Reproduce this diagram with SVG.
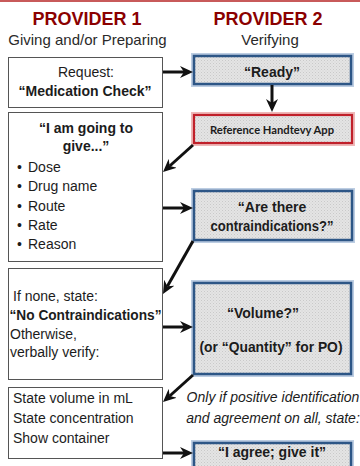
<svg xmlns="http://www.w3.org/2000/svg" width="360" height="466" viewBox="0 0 360 466">
<defs>
<pattern id="dots" width="3" height="3" patternUnits="userSpaceOnUse">
<rect width="3" height="3" fill="#e4e4e4"/>
<rect x="0" y="0" width="1" height="1" fill="#c9c9c9"/>
<rect x="1.5" y="1.5" width="1" height="1" fill="#d2d2d2"/>
</pattern>
<marker id="ah" markerUnits="userSpaceOnUse" markerWidth="14" markerHeight="12" refX="4" refY="6" orient="auto">
<path d="M0,0 L13,6 L0,12 L4,6 Z" fill="#111"/>
</marker>
<style>
.t{font-family:"Liberation Sans",Arial,sans-serif;fill:#1c1c1c;font-size:14px}
.b{font-weight:bold}
.c{text-anchor:middle}
.title{font-family:"Liberation Sans",Arial,sans-serif;font-weight:bold;font-size:18px;fill:#8b0000;text-anchor:middle}
.sub{font-family:"Liberation Sans",Arial,sans-serif;font-size:15px;fill:#2a2a2a;text-anchor:middle}
.lbox{fill:#fff;stroke:#555;stroke-width:1}
.glowb{fill:none;stroke:#9fb8d6;stroke-width:6;opacity:0.7}
.bbox{fill:url(#dots);stroke:#2d5686;stroke-width:2.5}
.glowr{fill:none;stroke:#e79a9a;stroke-width:6;opacity:0.7}
.rbox{fill:url(#dots);stroke:#c0202a;stroke-width:2.2}
.arr{stroke:#111;stroke-width:3;fill:none;marker-end:url(#ah)}
</style>
</defs>
<rect width="360" height="466" fill="#fff"/>
<line x1="0" y1="1" x2="360" y2="1" stroke="#c85a5a" stroke-width="2"/>

<g id="header1">
<text class="title" x="87" y="25">PROVIDER 1</text>
<text class="sub" x="87.5" y="45">Giving and/or Preparing</text>
</g>
<g id="header2">
<text class="title" x="268" y="25">PROVIDER 2</text>
<text class="sub" x="270" y="45">Verifying</text>
</g>

<g id="request">
<rect class="lbox" x="8.5" y="57.5" width="154" height="50"/>
<text class="t c" x="86" y="77">Request:</text>
<text class="t b c" x="85" y="96">“Medication Check”</text>
</g>

<g id="going-to-give">
<rect class="lbox" x="8.5" y="112.5" width="154" height="149"/>
<text class="t b c" x="86" y="133">“I am going to</text>
<text class="t b c" x="86" y="151">give...”</text>
<text class="t" x="17" y="172">•<tspan x="28">Dose</tspan></text>
<text class="t" x="17" y="191">•<tspan x="28">Drug name</tspan></text>
<text class="t" x="17" y="211">•<tspan x="28">Route</tspan></text>
<text class="t" x="17" y="230">•<tspan x="28">Rate</tspan></text>
<text class="t" x="17" y="249">•<tspan x="28">Reason</tspan></text>
</g>

<g id="no-contra">
<rect class="lbox" x="8.5" y="268.5" width="154" height="111"/>
<text class="t" x="13" y="301">If none, state:</text>
<text class="t b" x="9.5" y="320" textLength="152" lengthAdjust="spacingAndGlyphs">“No Contraindications”</text>
<text class="t" x="10" y="339">Otherwise,</text>
<text class="t" x="10" y="357">verbally verify:</text>
</g>

<g id="state-volume">
<rect class="lbox" x="8.5" y="387.5" width="154" height="71"/>
<text class="t" x="13" y="403">State volume in mL</text>
<text class="t" x="13" y="423">State concentration</text>
<text class="t" x="13" y="443">Show container</text>
</g>

<g id="ready">
<rect class="glowb" x="194" y="56" width="157" height="28"/>
<rect class="bbox" x="194" y="56" width="157" height="28"/>
<text class="t b c" x="272" y="77">“Ready”</text>
</g>

<g id="handtevy">
<rect class="glowr" x="194" y="115" width="158" height="28"/>
<rect class="rbox" x="194" y="115" width="158" height="28"/>
<text x="272" y="133.5" text-anchor="middle" font-family="Lato,'Open Sans',sans-serif" font-weight="bold" font-size="11" fill="#1c1c1c" textLength="124" lengthAdjust="spacingAndGlyphs">Reference Handtevy App</text>
</g>

<g id="contraindications">
<rect class="glowb" x="194" y="191" width="158" height="49"/>
<rect class="bbox" x="194" y="191" width="158" height="49"/>
<text class="t b c" x="272" y="212">“Are there</text>
<text class="t b c" x="272" y="231" textLength="123" lengthAdjust="spacingAndGlyphs">contraindications?”</text>
</g>

<g id="volume">
<rect class="glowb" x="194" y="283" width="157" height="91"/>
<rect class="bbox" x="194" y="283" width="157" height="91"/>
<text class="t b c" x="263" y="318">“Volume?”</text>
<text class="t b c" x="271" y="352" textLength="143" lengthAdjust="spacingAndGlyphs">(or “Quantity” for PO)</text>
</g>

<g id="condition">
<text class="t c" font-style="italic" x="273" y="402">Only if positive identification</text>
<text class="t c" font-style="italic" x="273" y="423">and agreement on all, state:</text>
</g>

<g id="agree">
<rect class="glowb" x="194" y="443" width="157" height="34"/>
<rect class="bbox" x="194" y="443" width="157" height="34"/>
<text class="t b c" x="272" y="457">“I agree; give it”</text>
</g>

<g id="connectors">
<line class="arr" x1="163" y1="72" x2="184" y2="72"/>
<line class="arr" x1="272" y1="85" x2="272" y2="103"/>
<line class="arr" x1="193" y1="145" x2="169.7" y2="166"/>
<line class="arr" x1="163" y1="208" x2="184" y2="208"/>
<line class="arr" x1="193" y1="241" x2="167.4" y2="286.2"/>
<line class="arr" x1="163" y1="327" x2="184" y2="327"/>
<line class="arr" x1="193" y1="375" x2="169.7" y2="396"/>
<line class="arr" x1="163" y1="453" x2="184" y2="453"/>
</g>
</svg>
